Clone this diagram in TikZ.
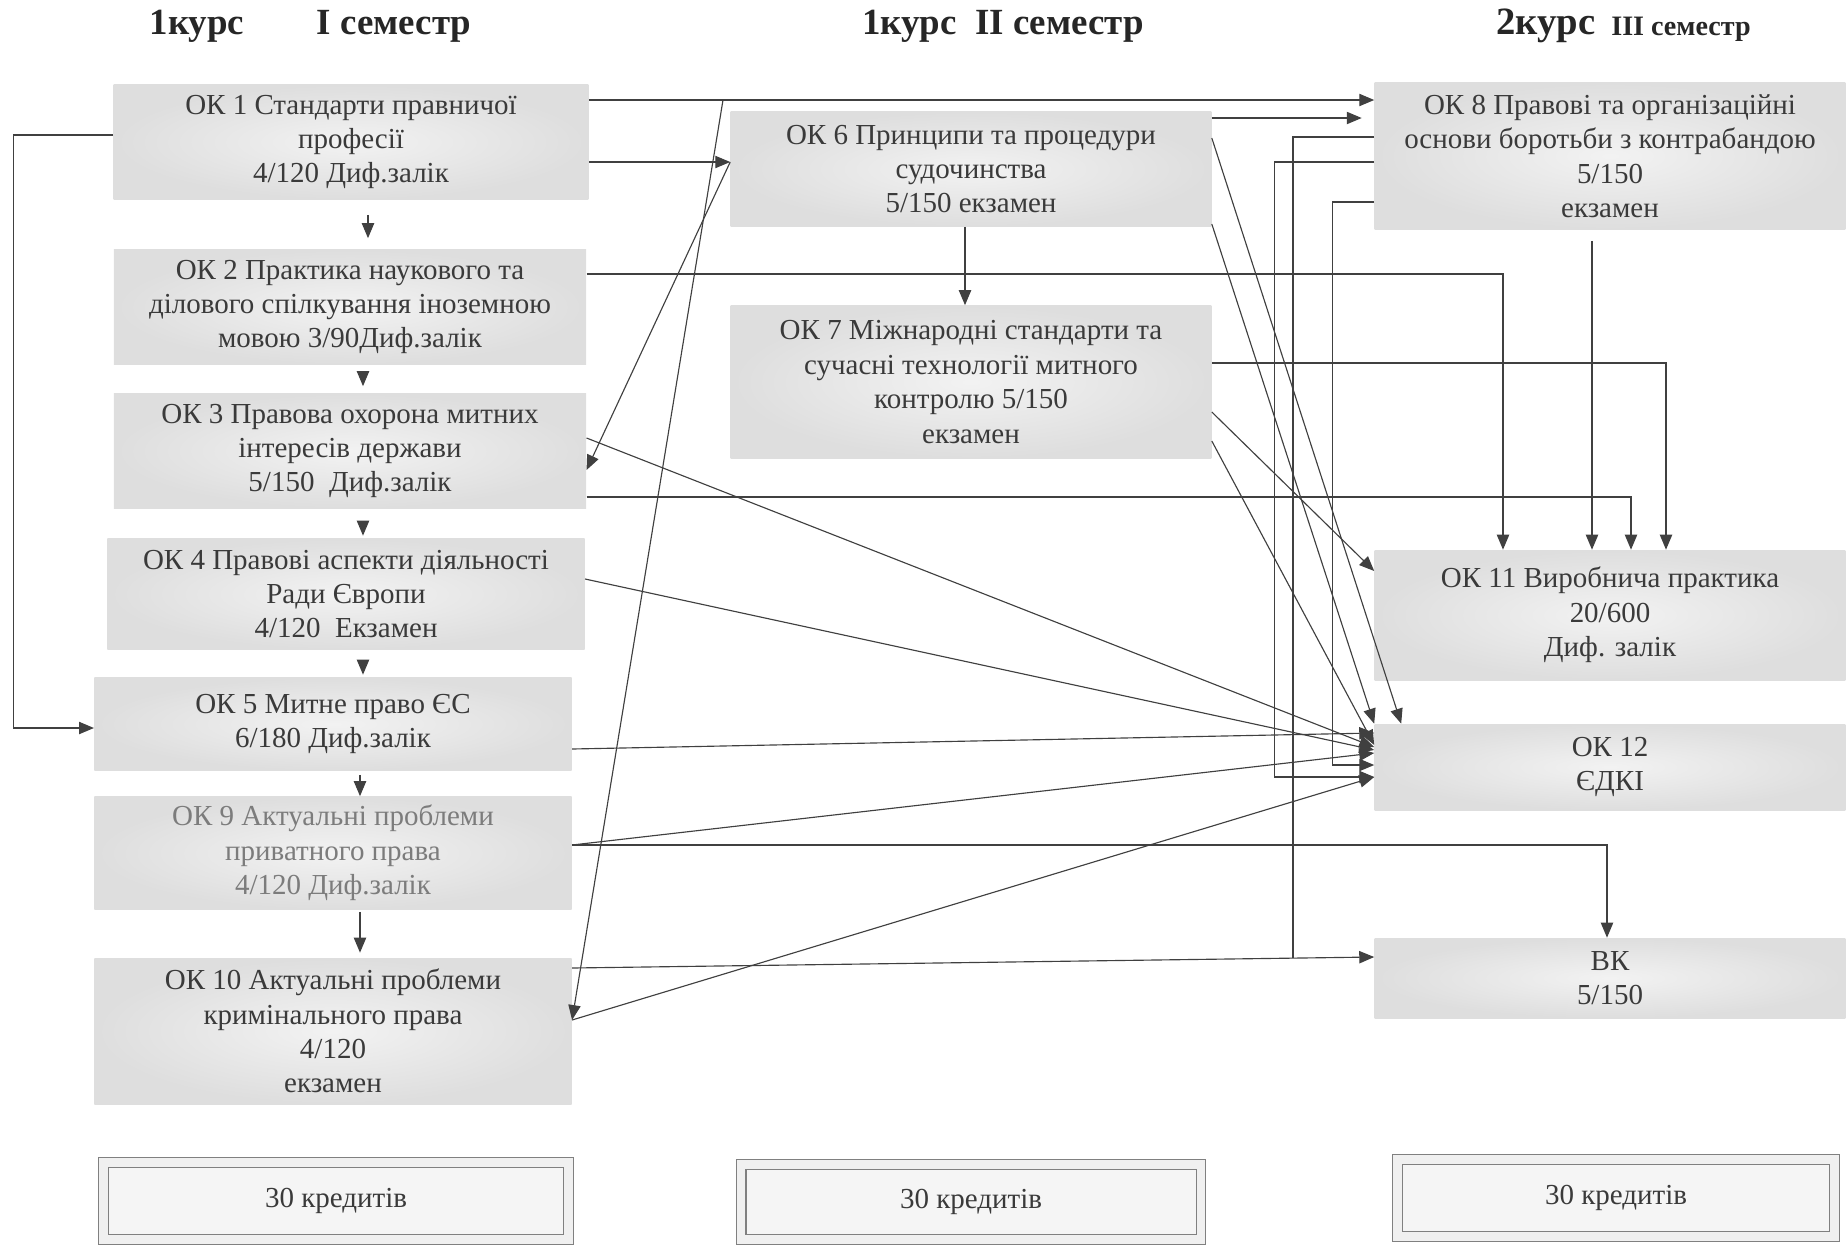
\documentclass[tikz,border=0pt]{standalone}
\usepackage{fontspec}
\setmainfont{Liberation Serif}
\usetikzlibrary{arrows.meta, calc}

\definecolor{lineGray}{HTML}{404040}
\definecolor{textGray}{HTML}{3A3A3A}
\definecolor{paleText}{HTML}{7C7C7C}

\newcommand{\boxfont}{\fontsize{16.5}{19.6}\selectfont}
\newcommand{\headfont}{\fontsize{21}{24}\selectfont\bfseries}

\tikzset{
    okbox/.style={inner color=black!5, outer color=black!13, text=textGray,
        align=center, font=\boxfont, inner sep=0pt},
    credbox/.style={draw=black!50, double=black!6, double distance=5pt,
        line width=0.6pt, fill=black!4, text=textGray, font=\boxfont},
    head/.style={font=\headfont, text=black!85, inner sep=0pt},
    link/.style={draw=lineGray, line width=0.65pt,
        -{Triangle[length=8.5pt,width=7pt]}},
    plain/.style={draw=lineGray, line width=0.65pt}
}

\begin{document}
\begin{tikzpicture}[x=0.02cm, y=-0.02cm]
    \useasboundingbox (0,0) rectangle (1846,1245);

    % headings
    \node[head] (h1a) at (197,26) {1курс};
    \node[head] (h1b) at (394,26) {I семестр};
    \node[head] (h2) at (1003,26) {1курс\ \ II семестр};
    \node[head, font=\fontsize{22}{24}\selectfont\bfseries] (h3a) at (1546,26) {2курс};
    \node[head, font=\fontsize{16}{18}\selectfont\bfseries] (h3b) at (1681,29) {III семестр};

    % first semester
    \node[okbox, minimum width=9.5cm, minimum height=2.3cm] (OK1) at (351,142)
        {ОК 1 Стандарти правничої\\професії\\4/120 Диф.залік};
    \node[okbox, minimum width=9.45cm, minimum height=2.3cm] (OK2) at (350,307)
        {ОК 2 Практика наукового та\\ділового спілкування іноземною\\мовою 3/90Диф.залік};
    \node[okbox, minimum width=9.45cm, minimum height=2.3cm] (OK3) at (350,451)
        {ОК 3 Правова охорона митних\\інтересів держави\\5/150\ \ Диф.залік};
    \node[okbox, minimum width=9.55cm, minimum height=2.22cm] (OK4) at (346,594)
        {ОК 4 Правові аспекти діяльності\\Ради Європи\\4/120\ \ Екзамен};
    \node[okbox, minimum width=9.55cm, minimum height=1.86cm] (OK5) at (333,724)
        {ОК 5 Митне право ЄС\\6/180 Диф.залік};
    \node[okbox, text=paleText, minimum width=9.55cm, minimum height=2.26cm] (OK9) at (333,853)
        {ОК 9 Актуальні проблеми\\приватного права\\4/120 Диф.залік};
    \node[okbox, minimum width=9.55cm, minimum height=2.92cm] (OK10) at (333,1031)
        {ОК 10 Актуальні проблеми\\кримінального права\\4/120\\екзамен};

    % second semester
    \node[okbox, minimum width=9.62cm, minimum height=2.3cm] (OK6) at (971,169)
        {ОК 6 Принципи та процедури\\судочинства\\5/150 екзамен};
    \node[okbox, minimum width=9.62cm, minimum height=3.06cm] (OK7) at (971,382)
        {ОК 7 Міжнародні стандарти та\\сучасні технології митного\\контролю 5/150\\екзамен};

    % third semester
    \node[okbox, minimum width=9.42cm, minimum height=2.94cm] (OK8) at (1610,156)
        {ОК 8 Правові та організаційні\\основи боротьби з контрабандою\\5/150\\екзамен};
    \node[okbox, minimum width=9.42cm, minimum height=2.6cm] (OK11) at (1610,615)
        {ОК 11 Виробнича практика\\20/600\\Диф. залік};
    \node[okbox, minimum width=9.42cm, minimum height=1.72cm] (OK12) at (1610,767)
        {ОК 12\\ЄДКІ};
    \node[okbox, minimum width=9.42cm, minimum height=1.6cm] (VK) at (1610,978)
        {ВК\\5/150};

    % credits
    \node[credbox, minimum width=9.3cm, minimum height=1.55cm] (cr1) at (336,1201) {30 кредитів};
    \node[credbox, minimum width=9.2cm, minimum height=1.5cm] (cr2) at (971,1202) {30 кредитів};
    \node[credbox, minimum width=8.75cm, minimum height=1.55cm] (cr3) at (1616,1198) {30 кредитів};

    % chain in first column
    \foreach \a/\b/\x/\s/\e in {OK1/OK2/368/0.3/0.22, OK2/OK3/363/0.16/0.14,
            OK3/OK4/363/0.28/0.05, OK4/OK5/363/0.24/0.05,
            OK5/OK9/360/0.08/0.0, OK9/OK10/360/0.04/0.1}
        \draw[link, shorten <=\s cm, shorten >=\e cm] (\a.south -| \x,0) -- (\b.north -| \x,0);
    \draw[link] (OK1.west |- 0,135) -- ++(-100,0) |- (OK5.west |- 0,728);

    % from first column
    \coordinate (br) at (723,100);
    \draw[link] (OK1.east |- 0,100) -- (OK8.west |- 0,100);
    \draw[link] (br) -- (OK10.east |- 0,1020);
    \draw[link] (OK1.east |- 0,162) -- (OK6.west |- 0,162);
    \draw[link] (OK6.west |- 0,162) -- (OK3.east |- 0,470);
    \draw[link] (OK2.east |- 0,274) -| (OK11.north -| 1503,0);
    \draw[link] (OK3.east |- 0,497) -| (OK11.north -| 1631,0);
    \draw[link] (OK3.east |- 0,438) -- (OK12.west |- 0,747);
    \draw[link] (OK4.east |- 0,579) -- (OK12.west |- 0,750);
    \draw[link] (OK5.east |- 0,749) -- (OK12.west |- 0,733);
    \draw[link] (OK9.east |- 0,845) -- (OK12.west |- 0,753);
    \draw[link] (OK9.east |- 0,845) -| (VK.north -| 1607,0);
    \draw[link] (OK10.east |- 0,1020) -- (OK12.west |- 0,777);
    \coordinate (j1) at (1293,958);
    \draw[link] (OK10.east |- 0,968) -- (VK.west |- 0,957);

    % from second column
    \draw[link, shorten >=0.25cm] (OK6.east |- 0,118) -- (OK8.west |- 0,118);
    \draw[link] (OK6.south -| 965,0) -- (OK7.north -| 965,0);
    \draw[link] (OK6.east |- 0,138) -- ([xshift=0.54cm]OK12.north west);
    \draw[link] (OK6.east |- 0,224) -- (OK12.north west);
    \draw[link] (OK7.east |- 0,363) -| (OK11.north -| 1666,0);
    \draw[link] (OK7.east |- 0,412) -- (OK11.west |- 0,571);
    \draw[link] (OK7.east |- 0,441) -- (OK12.west |- 0,745);

    % from third column
    \draw[link, shorten <=0.22cm] (OK8.south -| 1592,0) -- (OK11.north -| 1592,0);
    \draw[plain] (OK8.west |- 0,137) -| (j1);
    \draw[link] (OK8.west |- 0,162) -- ++(-100,0) |- (OK12.west |- 0,777);
    \draw[link] (OK8.west |- 0,202) -- ++(-42,0) |- (OK12.west |- 0,765);
\end{tikzpicture}
\end{document}
